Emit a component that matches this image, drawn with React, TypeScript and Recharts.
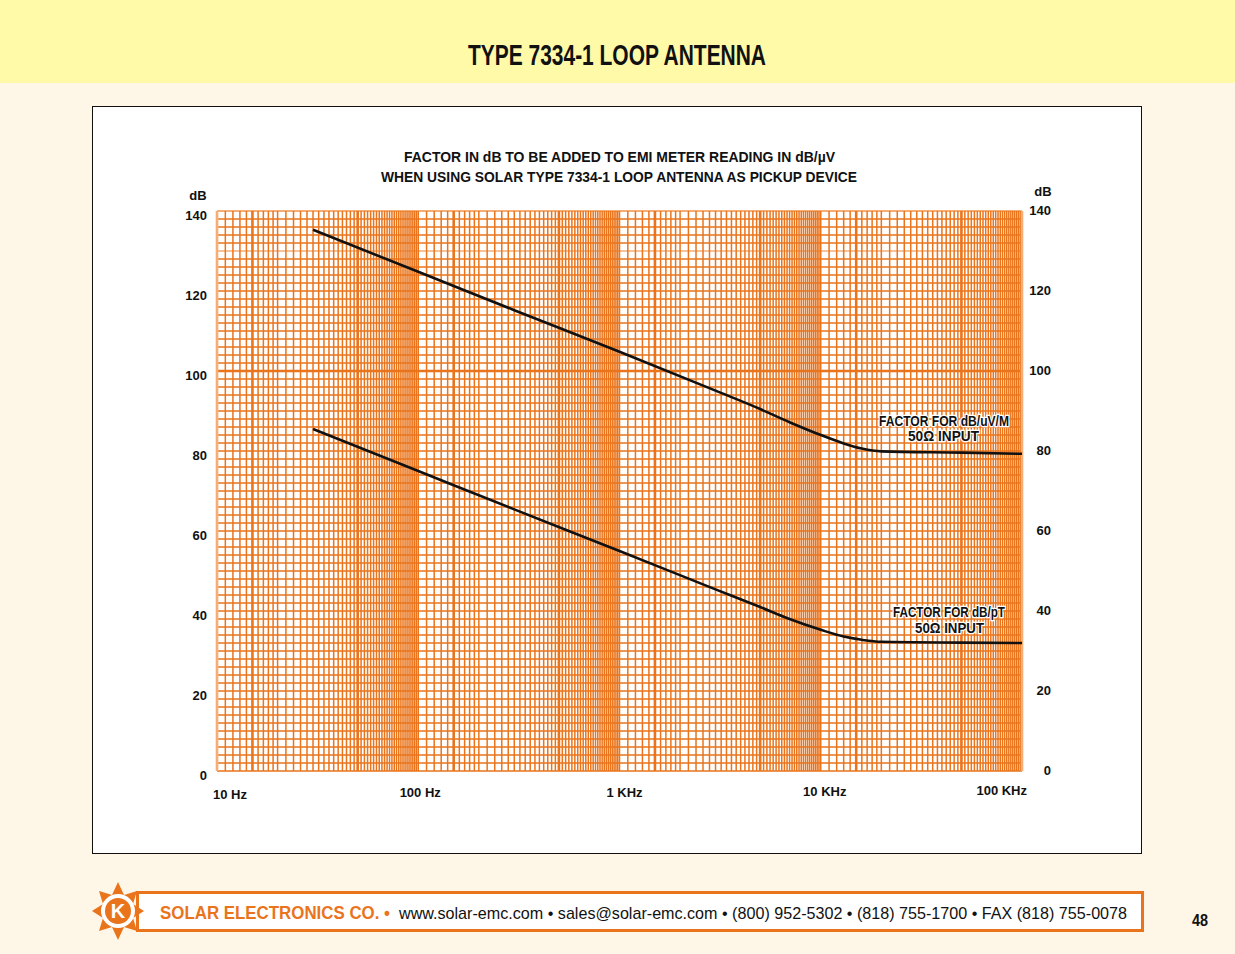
import React from 'react'
import { LineChart, Line, XAxis, YAxis, ReferenceLine } from 'recharts'

// frequency (Hz) and antenna factor curves
const freqs = [30, 100, 300, 1000, 3000, 5000, 7000, 10000, 13000, 16000, 20000, 50000, 100000]
const uvmFactor = [135.3, 124.8, 115.2, 104.8, 95.1, 90.5, 87.2, 84.0, 81.9, 80.6, 79.9, 79.6, 79.3]
const ptFactor = [85.5, 75.0, 65.4, 55.0, 45.4, 41.0, 38.0, 35.3, 33.6, 32.8, 32.3, 32.1, 32.0]

const xTicks = [10, 100, 1000, 10000, 100000]
const xTickLabels = ['10 Hz', '100 Hz', '1 KHz', '10 KHz', '100 KHz']
const yTicks = [0, 20, 40, 60, 80, 100, 120, 140]

// log paper rulings
const decades = [10, 100, 1000, 10000]
const heavyMantissas = [1.5, 5]

const FONT = "'Liberation Sans', Arial, sans-serif"
const ORANGE = '#E9741C'
const PEACH = '#F4AE76'

const data = freqs.map((f, i) => ({ freq: f, uvm: uvmFactor[i], pt: ptFactor[i] }))

const mantissas: number[] = []
for (let m = 10; m < 20; m += 1) mantissas.push(m / 10)
for (let m = 20; m < 100; m += 2) mantissas.push(m / 10)

const vGrid: number[] = []
decades.forEach((d) => mantissas.forEach((m) => vGrid.push(Math.round(d * m * 1000) / 1000)))
vGrid.push(100000)

const hGrid: number[] = []
for (let v = 0; v <= 140; v += 2) hGrid.push(v)

const XTick = (props: any) => {
  const { x, y, payload } = props
  const i = xTicks.indexOf(payload.value)
  let anchor = 'middle'
  let dx = 3
  if (i === 0) { anchor = 'start'; dx = -4 }
  if (i === 1) dx = 2
  if (i === 2) dx = 5
  if (i === 3) dx = 4
  if (i === 4) { anchor = 'end'; dx = 5 }
  const dy = [20, 18, 18, 17, 16][i]
  return (
    <text x={x + dx} y={y + dy} textAnchor={anchor} fontFamily={FONT} fontWeight="bold" fontSize={13} fill="#111">
      {xTickLabels[i]}
    </text>
  )
}

// draws the dB value on both sides of the plot
const DbTick = (props: any) => {
  const { y, payload } = props
  return (
    <g fontFamily={FONT} fontWeight="bold" fontSize={13} fill="#111" textAnchor="end">
      <text x={207} y={y + 9}>{payload.value}</text>
      <text x={1051} y={y + 4}>{payload.value}</text>
    </g>
  )
}

const Logo = () => (
  <svg width={54} height={60} style={{ position: 'absolute', left: 91, top: 881 }}>
    <polygon
      points="27,1 33,14 46,10 42,23 53,30 42,37 46,50 33,46 27,59 21,46 8,50 12,37 1,30 12,23 8,10 21,14"
      fill={ORANGE}
    />
    <circle cx={27} cy={30} r={17} fill="#fff" />
    <circle cx={27} cy={30} r={13} fill={ORANGE} />
    <text x={27} y={37} textAnchor="middle" fontFamily={FONT} fontWeight="bold" fontSize={20} fill="#fff">K</text>
  </svg>
)

export default function App() {
  return (
    <div style={{ position: 'absolute', left: 0, top: 0, width: 1235, height: 954, background: '#FEF6E7', overflow: 'hidden' }}>
      <div style={{ position: 'absolute', left: 0, top: 0, width: 1235, height: 83, background: '#FFFAA8' }} />
      <div style={{ position: 'absolute', left: 92, top: 106, width: 1048, height: 746, background: '#fff', border: '1px solid #111' }} />
      <div style={{ position: 'absolute', left: 136, top: 891, width: 1002, height: 35, background: '#fff', border: `3px solid ${ORANGE}` }} />

      <div style={{ position: 'absolute', left: 0, top: 0 }}>
        <LineChart width={1235} height={954} data={data} margin={{ top: 211, right: 213, bottom: 153, left: 177 }}>
          <XAxis
            dataKey="freq"
            type="number"
            scale="log"
            domain={[10, 100000]}
            allowDataOverflow
            ticks={xTicks}
            tick={<XTick />}
            tickLine={false}
            axisLine={false}
            height={30}
            interval={0}
          />
          <YAxis yAxisId="left" domain={[0, 140]} ticks={yTicks} tick={<DbTick />} tickLine={false} axisLine={false} width={40} interval={0} />
          {hGrid.map((v) => (
            <ReferenceLine
              key={'h' + v}
              yAxisId="left"
              y={v}
              stroke={v === 140 || v === 130 ? PEACH : ORANGE}
              strokeWidth={v === 100 ? 2.6 : v === 140 ? 2.2 : 1.5}
            />
          ))}
          {vGrid.map((v) => {
            const m = v / Math.pow(10, Math.floor(Math.log10(v) + 1e-9))
            const edge = v === 10 || v === 100000
            const heavy = heavyMantissas.some((h) => Math.abs(h - m) < 1e-6)
            return (
              <ReferenceLine
                key={'v' + v}
                yAxisId="left"
                x={v}
                stroke={edge ? PEACH : ORANGE}
                strokeWidth={edge ? 2.6 : heavy ? 2.6 : 1.5}
              />
            )
          })}
          <Line yAxisId="left" type="monotone" dataKey="uvm" stroke="#111" strokeWidth={2.6} dot={false} isAnimationActive={false} />
          <Line yAxisId="left" type="monotone" dataKey="pt" stroke="#111" strokeWidth={2.6} dot={false} isAnimationActive={false} />
        </LineChart>
      </div>

      <Logo />

      <svg width={1235} height={954} style={{ position: 'absolute', left: 0, top: 0, pointerEvents: 'none' }}>
        <g fontFamily={FONT} fontWeight="bold" fill="#111">
          <text x={468} y={65} fontSize={29} textLength={298} lengthAdjust="spacingAndGlyphs">TYPE 7334-1 LOOP ANTENNA</text>
          <text x={404} y={162} fontSize={15} textLength={431} lengthAdjust="spacingAndGlyphs">FACTOR IN dB TO BE ADDED TO EMI METER READING IN dB/µV</text>
          <text x={381} y={182} fontSize={15} textLength={476} lengthAdjust="spacingAndGlyphs">WHEN USING SOLAR TYPE 7334-1 LOOP ANTENNA AS PICKUP DEVICE</text>
          <text x={198} y={200} textAnchor="middle" fontSize={13}>dB</text>
          <text x={1043} y={196} textAnchor="middle" fontSize={13}>dB</text>
          <g fontSize={14} stroke="#fff" strokeWidth={2.5} paintOrder="stroke">
            <text x={879} y={426} textLength={130} lengthAdjust="spacingAndGlyphs">FACTOR FOR dB/uV/M</text>
            <text x={908} y={441} textLength={71} lengthAdjust="spacingAndGlyphs">50Ω INPUT</text>
            <text x={893} y={617} textLength={112} lengthAdjust="spacingAndGlyphs">FACTOR FOR dB/pT</text>
            <text x={915} y={633} textLength={69} lengthAdjust="spacingAndGlyphs">50Ω INPUT</text>
          </g>
          <text x={1200} y={926} textAnchor="middle" fontSize={16} textLength={16} lengthAdjust="spacingAndGlyphs">48</text>
        </g>
        <text x={160} y={919} fontFamily={FONT} fontWeight="bold" fontSize={18} fill={ORANGE} textLength={230} lengthAdjust="spacingAndGlyphs">
          SOLAR ELECTRONICS CO.  •
        </text>
        <text x={399} y={919} fontFamily={FONT} fontSize={17} fill="#111" textLength={728} lengthAdjust="spacingAndGlyphs">
          www.solar-emc.com • sales@solar-emc.com • (800) 952-5302 • (818) 755-1700  • FAX (818) 755-0078
        </text>
      </svg>
    </div>
  )
}
